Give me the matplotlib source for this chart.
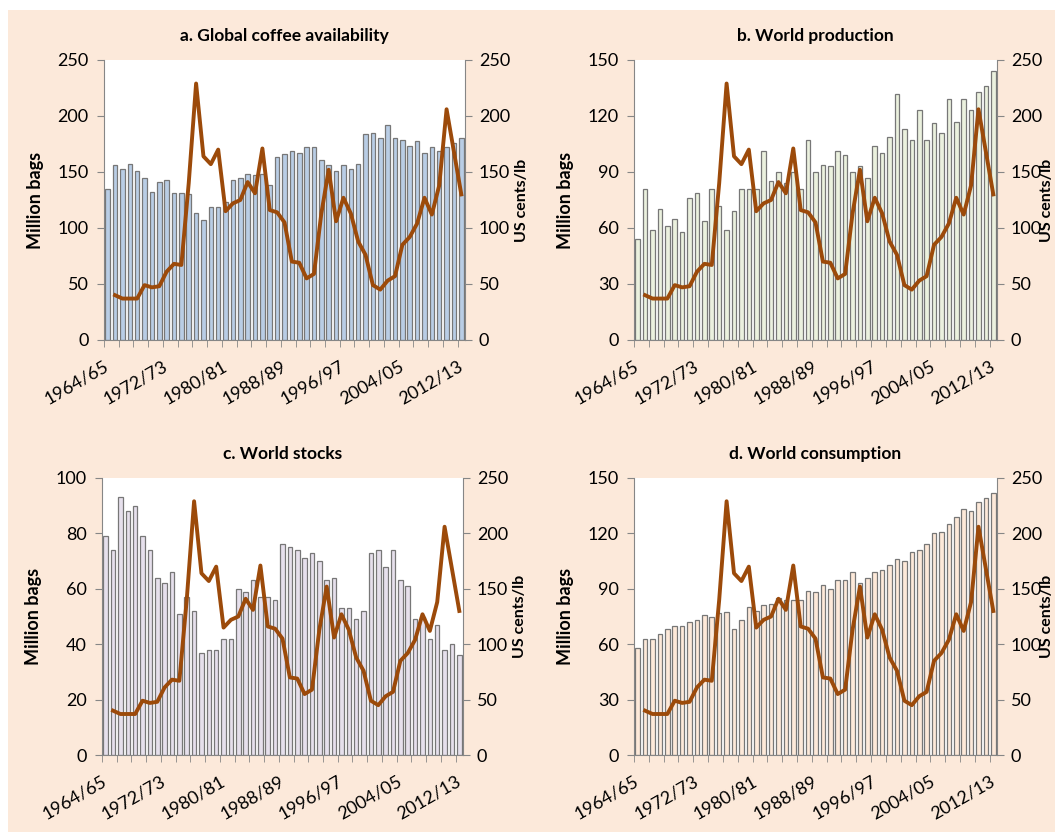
import matplotlib.pyplot as plt
import matplotlib.patches as mpatches
import numpy as np

plt.rcParams['font.family'] = ['Lato', 'DejaVu Sans']

# crop years 1964/65 .. 2012/13
seasons = [f"{y}/{(y + 1) % 100:02d}" for y in range(1964, 2013)]
label_seasons = ['1964/65', '1972/73', '1980/81', '1988/89', '1996/97', '2004/05', '2012/13']

# ICO composite indicator price, US cents/lb (no value for first season)
price = [np.nan, 40, 37, 37, 37, 49, 47, 48, 61, 68,
         67, 140, 229, 164, 157, 170, 115, 122, 125, 141,
         131, 171, 116, 114, 105, 70, 69, 55, 59, 113,
         152, 106, 127, 113, 88, 76, 49, 45, 53, 57,
         85, 92, 104, 127, 112, 138, 206, 168, 130]

# million bags
availability = [135, 156, 153, 157, 151, 145, 132, 141, 143, 131,
                131, 130, 113, 107, 119, 119, 123, 143, 145, 148,
                147, 148, 138, 163, 166, 169, 167, 172, 172, 161,
                156, 151, 156, 153, 157, 184, 185, 180, 192, 180,
                179, 173, 178, 167, 172, 169, 172, 176, 180]
production = [54, 81, 59, 70, 61, 65, 58, 76, 79, 64,
              81, 72, 59, 69, 81, 81, 81, 101, 85, 90,
              84, 90, 81, 107, 90, 94, 93, 101, 99, 90,
              93, 87, 104, 100, 109, 132, 113, 107, 123, 107,
              116, 111, 129, 117, 129, 123, 133, 136, 144]
stocks = [79, 74, 93, 88, 90, 79, 74, 64, 62, 66,
          51, 57, 52, 37, 38, 38, 42, 42, 60, 59,
          63, 57, 57, 56, 76, 75, 74, 71, 73, 70,
          63, 64, 53, 53, 49, 52, 73, 74, 68, 74,
          63, 61, 49, 50, 42, 47, 38, 40, 36]
consumption = [58, 63, 63, 65.5, 68.5, 70, 70, 72, 73, 76,
               74.5, 77, 77.5, 68.5, 73, 80, 78, 81, 82, 85,
               84, 84, 84, 89, 88, 92, 90, 95, 95, 99,
               93, 96, 99, 100, 103, 106, 105, 110, 111, 114,
               120, 121, 125, 129, 133, 132, 137, 139, 142]

titles = ['a. Global coffee availability', 'b. World production',
          'c. World stocks', 'd. World consumption']
bar_colors = ['#B9CDE5', '#EBF1DE', '#E6E0EC', '#FDE9D9']
left_max = [250, 150, 100, 150]
left_step = [50, 30, 20, 30]
series = [availability, production, stocks, consumption]

W, H = 1055, 834
fig = plt.figure(figsize=(W / 100, H / 100), dpi=100)
bg = mpatches.Rectangle((8 / W, 2 / H), 1, 1 - 12 / H, transform=fig.transFigure,
                        facecolor='#FCE9DA', edgecolor='none', zorder=-10)
fig.add_artist(bg)

# axes boxes in pixels: left, top, right, bottom
boxes = [(104, 60, 465, 340), (634, 60, 997, 340),
         (102, 478, 463, 755), (634, 478, 997, 755)]
right_label_x = [1.158, 1.137, 1.158, 1.137]

gray = '#868686'
x = np.arange(len(seasons))
label_pos = [seasons.index(s) for s in label_seasons]

for k in range(4):
    l, t, r, b = boxes[k]
    ax = fig.add_axes([l / W, 1 - b / H, (r - l) / W, (b - t) / H])
    ax.set_facecolor('white')
    ax.bar(x, series[k], width=0.62, color=bar_colors[k], edgecolor='#777777', linewidth=0.9, zorder=2)
    ax.set_xlim(-0.5, len(seasons) - 0.5)
    ax.set_ylim(0, left_max[k])
    ax.set_yticks(np.arange(0, left_max[k] + 1, left_step[k]))
    ax.set_xticks(label_pos)
    ax.set_xticklabels(label_seasons, rotation=30, ha='right', va='center', rotation_mode='anchor')
    ax.set_xticks(np.arange(-0.5, len(seasons), 2), minor=True)
    ax.tick_params(axis='x', which='major', length=0, pad=18, labelsize=13)
    ax.tick_params(axis='x', which='minor', length=5, color=gray)
    ax.tick_params(axis='y', length=5, color=gray, pad=6, labelsize=13)
    for s in ['left', 'bottom']:
        ax.spines[s].set_color(gray)
    ax.spines['top'].set_visible(False)
    ax.spines['right'].set_visible(False)
    ax.set_ylabel('Million bags', fontsize=13, fontweight='bold', labelpad=10)
    ax.set_title(titles[k], fontsize=12.5, fontweight='bold', pad=14)

    ax2 = ax.twinx()
    ax2.plot(x, price, color='#9C4A0A', linewidth=2.8, zorder=3)
    ax2.set_ylim(0, 250)
    ax2.set_yticks(np.arange(0, 251, 50))
    ax2.tick_params(axis='y', length=5, color=gray, pad=5, labelsize=13)
    ax2.spines['right'].set_color(gray)
    for s in ['left', 'top', 'bottom']:
        ax2.spines[s].set_visible(False)
    ax2.set_ylabel('US cents/lb', fontsize=11.5, fontweight='bold', va='center')
    ax2.yaxis.set_label_coords(right_label_x[k], 0.5)

fig.savefig('out.png', dpi=100, facecolor='white')
